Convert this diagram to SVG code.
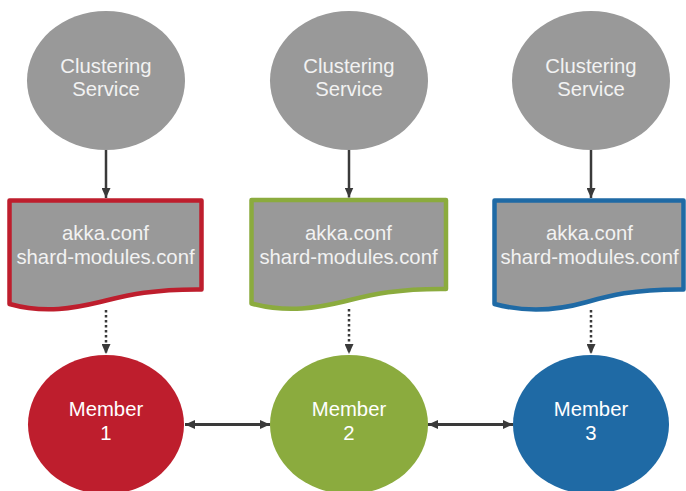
<svg xmlns="http://www.w3.org/2000/svg" width="686" height="491" viewBox="0 0 686 491">
  <defs>
    <marker id="head" viewBox="0 0 10 9" refX="10" refY="4.5" markerWidth="10" markerHeight="9" markerUnits="userSpaceOnUse" orient="auto-start-reverse">
      <path d="M0,0 L10,4.5 L0,9 z" fill="#3a3a3a"/>
    </marker>
  </defs>
  <style>
    .svc { fill: #999999; }
    .doc { fill: #999999; stroke-width: 4.5; stroke-linejoin: round; }
    .lbl { font-family: "Liberation Sans", Arial, sans-serif; font-size: 20.3px; fill: #f2f2f2; text-anchor: middle; }
    .mem { fill: #ffffff; }
    .solid { stroke: #3a3a3a; stroke-width: 2.5; fill: none; }
    .dotted { stroke: #3a3a3a; stroke-width: 2.5; fill: none; stroke-dasharray: 2.5 2.5; }
    .link { stroke: #3a3a3a; stroke-width: 3; fill: none; }
  </style>

  <!-- Clustering services -->
  <g id="service-1">
    <ellipse class="svc" cx="106" cy="80.5" rx="79" ry="69.5"/>
    <text class="lbl" x="106" y="73">Clustering</text>
    <text class="lbl" x="106" y="96">Service</text>
  </g>
  <g id="service-2">
    <ellipse class="svc" cx="349" cy="80.5" rx="79" ry="69.5"/>
    <text class="lbl" x="349" y="73">Clustering</text>
    <text class="lbl" x="349" y="96">Service</text>
  </g>
  <g id="service-3">
    <ellipse class="svc" cx="591" cy="80.5" rx="79" ry="69.5"/>
    <text class="lbl" x="591" y="73">Clustering</text>
    <text class="lbl" x="591" y="96">Service</text>
  </g>

  <!-- Configuration documents -->
  <g id="config-1">
    <path class="doc" stroke="#BE1E2D" d="M9.5,200.5 H201.5 V289.5 C150,289 125,296 100,302 S45,314 9.5,304 Z"/>
    <text class="lbl" x="105.5" y="240">akka.conf</text>
    <text class="lbl" x="105.5" y="264">shard-modules.conf</text>
  </g>
  <g id="config-2">
    <path class="doc" stroke="#8BAB3E" d="M251.5,200 H446 V289 C394,288.5 369,295.5 344,301.5 S288,313.5 251.5,303.5 Z"/>
    <text class="lbl" x="348.5" y="240">akka.conf</text>
    <text class="lbl" x="348.5" y="264">shard-modules.conf</text>
  </g>
  <g id="config-3">
    <path class="doc" stroke="#1F6AA5" d="M494.5,200.5 H683.5 V289.5 C633,289 608,296 587,302 S531,314 494.5,304 Z"/>
    <text class="lbl" x="589.5" y="240">akka.conf</text>
    <text class="lbl" x="589.5" y="264">shard-modules.conf</text>
  </g>

  <!-- Cluster members -->
  <g id="member-1">
    <ellipse cx="106" cy="424.5" rx="78" ry="69.5" fill="#BE1E2D"/>
    <text class="lbl mem" x="106" y="416">Member</text>
    <text class="lbl mem" x="106" y="440">1</text>
  </g>
  <g id="member-2">
    <ellipse cx="349" cy="424.5" rx="79" ry="69.5" fill="#8BAB3E"/>
    <text class="lbl mem" x="349" y="416">Member</text>
    <text class="lbl mem" x="349" y="440">2</text>
  </g>
  <g id="member-3">
    <ellipse cx="591" cy="424.5" rx="78" ry="69.5" fill="#1F6AA5"/>
    <text class="lbl mem" x="591" y="416">Member</text>
    <text class="lbl mem" x="591" y="440">3</text>
  </g>

  <!-- Connectors -->
  <g id="connectors">
    <line class="solid" x1="106" y1="150" x2="106" y2="198" marker-end="url(#head)"/>
    <line class="solid" x1="349" y1="150" x2="349" y2="197.5" marker-end="url(#head)"/>
    <line class="solid" x1="591" y1="150" x2="591" y2="198" marker-end="url(#head)"/>

    <line class="dotted" x1="106" y1="310" x2="106" y2="354" marker-end="url(#head)"/>
    <line class="dotted" x1="349" y1="309" x2="349" y2="354" marker-end="url(#head)"/>
    <line class="dotted" x1="591" y1="310" x2="591" y2="354" marker-end="url(#head)"/>

    <line class="link" x1="185" y1="424.5" x2="270" y2="424.5" marker-start="url(#head)" marker-end="url(#head)"/>
    <line class="link" x1="428" y1="424.5" x2="513" y2="424.5" marker-start="url(#head)" marker-end="url(#head)"/>
  </g>
</svg>
